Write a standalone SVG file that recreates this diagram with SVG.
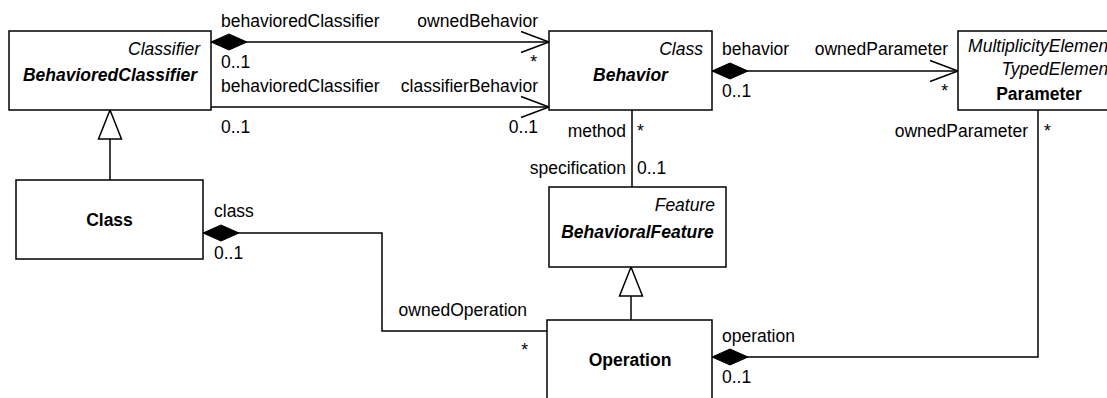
<svg xmlns="http://www.w3.org/2000/svg" width="1107" height="398" viewBox="0 0 1107 398">
<style>
text{font-family:"Liberation Sans",Arial,sans-serif;font-size:17.5px;fill:#000}
.it{font-style:italic}
.nm{font-weight:bold;text-anchor:middle}
.bi{font-weight:bold;font-style:italic;text-anchor:middle}
.r{text-anchor:end}
.box{fill:#fff;stroke:#000;stroke-width:1.5}
.ln{fill:none;stroke:#000;stroke-width:1.5}
</style>
<defs>
<marker id="diamond" markerUnits="userSpaceOnUse" markerWidth="40" markerHeight="20" refX="0" refY="0" orient="auto" overflow="visible">
<path d="M0,0 L18,-8 L36,0 L18,8 Z" fill="#000" stroke="#000" stroke-width="1"/>
</marker>
<marker id="open" markerUnits="userSpaceOnUse" markerWidth="30" markerHeight="24" refX="0" refY="0" orient="auto" overflow="visible">
<path d="M-28,-10.5 L0,0 L-28,10.5" fill="none" stroke="#000" stroke-width="1.5"/>
</marker>
<marker id="gen" markerUnits="userSpaceOnUse" markerWidth="30" markerHeight="24" refX="0" refY="0" orient="auto" overflow="visible">
<path d="M0,0 L-29,-11.5 L-29,11.5 Z" fill="#fff" stroke="#000" stroke-width="1.5"/>
</marker>
</defs>

<g id="connectors">
<path class="ln" d="M211,42 H549" marker-start="url(#diamond)" marker-end="url(#open)"/>
<path class="ln" d="M211,107 H549" marker-end="url(#open)"/>
<path class="ln" d="M712,71 H958" marker-start="url(#diamond)" marker-end="url(#open)"/>
<path class="ln" d="M632,110 V187"/>
<path class="ln" d="M712,357 H1038 V110" marker-start="url(#diamond)"/>
<path class="ln" d="M203,233 H382 V331 H547" marker-start="url(#diamond)"/>
<path class="ln" d="M110,180 V110" marker-end="url(#gen)"/>
<path class="ln" d="M631,320 V267" marker-end="url(#gen)"/>

<text x="221" y="27">behavioredClassifier</text>
<text x="221" y="68">0..1</text>
<text class="r" x="538" y="27">ownedBehavior</text>
<text class="r" x="537" y="68">*</text>

<text x="221" y="92">behavioredClassifier</text>
<text x="221" y="133">0..1</text>
<text class="r" x="538" y="92">classifierBehavior</text>
<text class="r" x="538" y="133">0..1</text>

<text x="722" y="55">behavior</text>
<text x="722" y="97">0..1</text>
<text class="r" x="948" y="55">ownedParameter</text>
<text class="r" x="948" y="97">*</text>

<text class="r" x="626" y="137">method</text>
<text x="637" y="137">*</text>
<text class="r" x="626" y="174">specification</text>
<text x="637" y="174">0..1</text>

<text class="r" x="1028" y="137">ownedParameter</text>
<text x="1044" y="137">*</text>
<text x="722" y="342">operation</text>
<text x="722" y="383">0..1</text>

<text x="214" y="217">class</text>
<text x="214" y="259">0..1</text>
<text class="r" x="527" y="316">ownedOperation</text>
<text class="r" x="528" y="356">*</text>
</g>

<g id="BehavioredClassifier">
<rect class="box" x="9" y="31" width="202" height="79"/>
<text class="it r" x="200" y="55">Classifier</text>
<text class="bi" x="110" y="81">BehavioredClassifier</text>
</g>

<g id="Behavior">
<rect class="box" x="549" y="31" width="163" height="79"/>
<text class="it r" x="703" y="55">Class</text>
<text class="bi" x="630.5" y="81">Behavior</text>
</g>

<g id="Parameter">
<rect class="box" x="958" y="31" width="164" height="79"/>
<text class="it r" x="1113" y="52">MultiplicityElement</text>
<text class="it r" x="1113" y="75">TypedElement</text>
<text class="nm" x="1039" y="100">Parameter</text>
</g>

<g id="Class">
<rect class="box" x="16" y="180" width="187" height="79"/>
<text class="nm" x="109.5" y="226">Class</text>
</g>

<g id="BehavioralFeature">
<rect class="box" x="549" y="187" width="177" height="80"/>
<text class="it r" x="715" y="211">Feature</text>
<text class="bi" x="637.5" y="238">BehavioralFeature</text>
</g>

<g id="Operation">
<rect class="box" x="547" y="320" width="165" height="100"/>
<text class="nm" x="630" y="366">Operation</text>
</g>
</svg>
